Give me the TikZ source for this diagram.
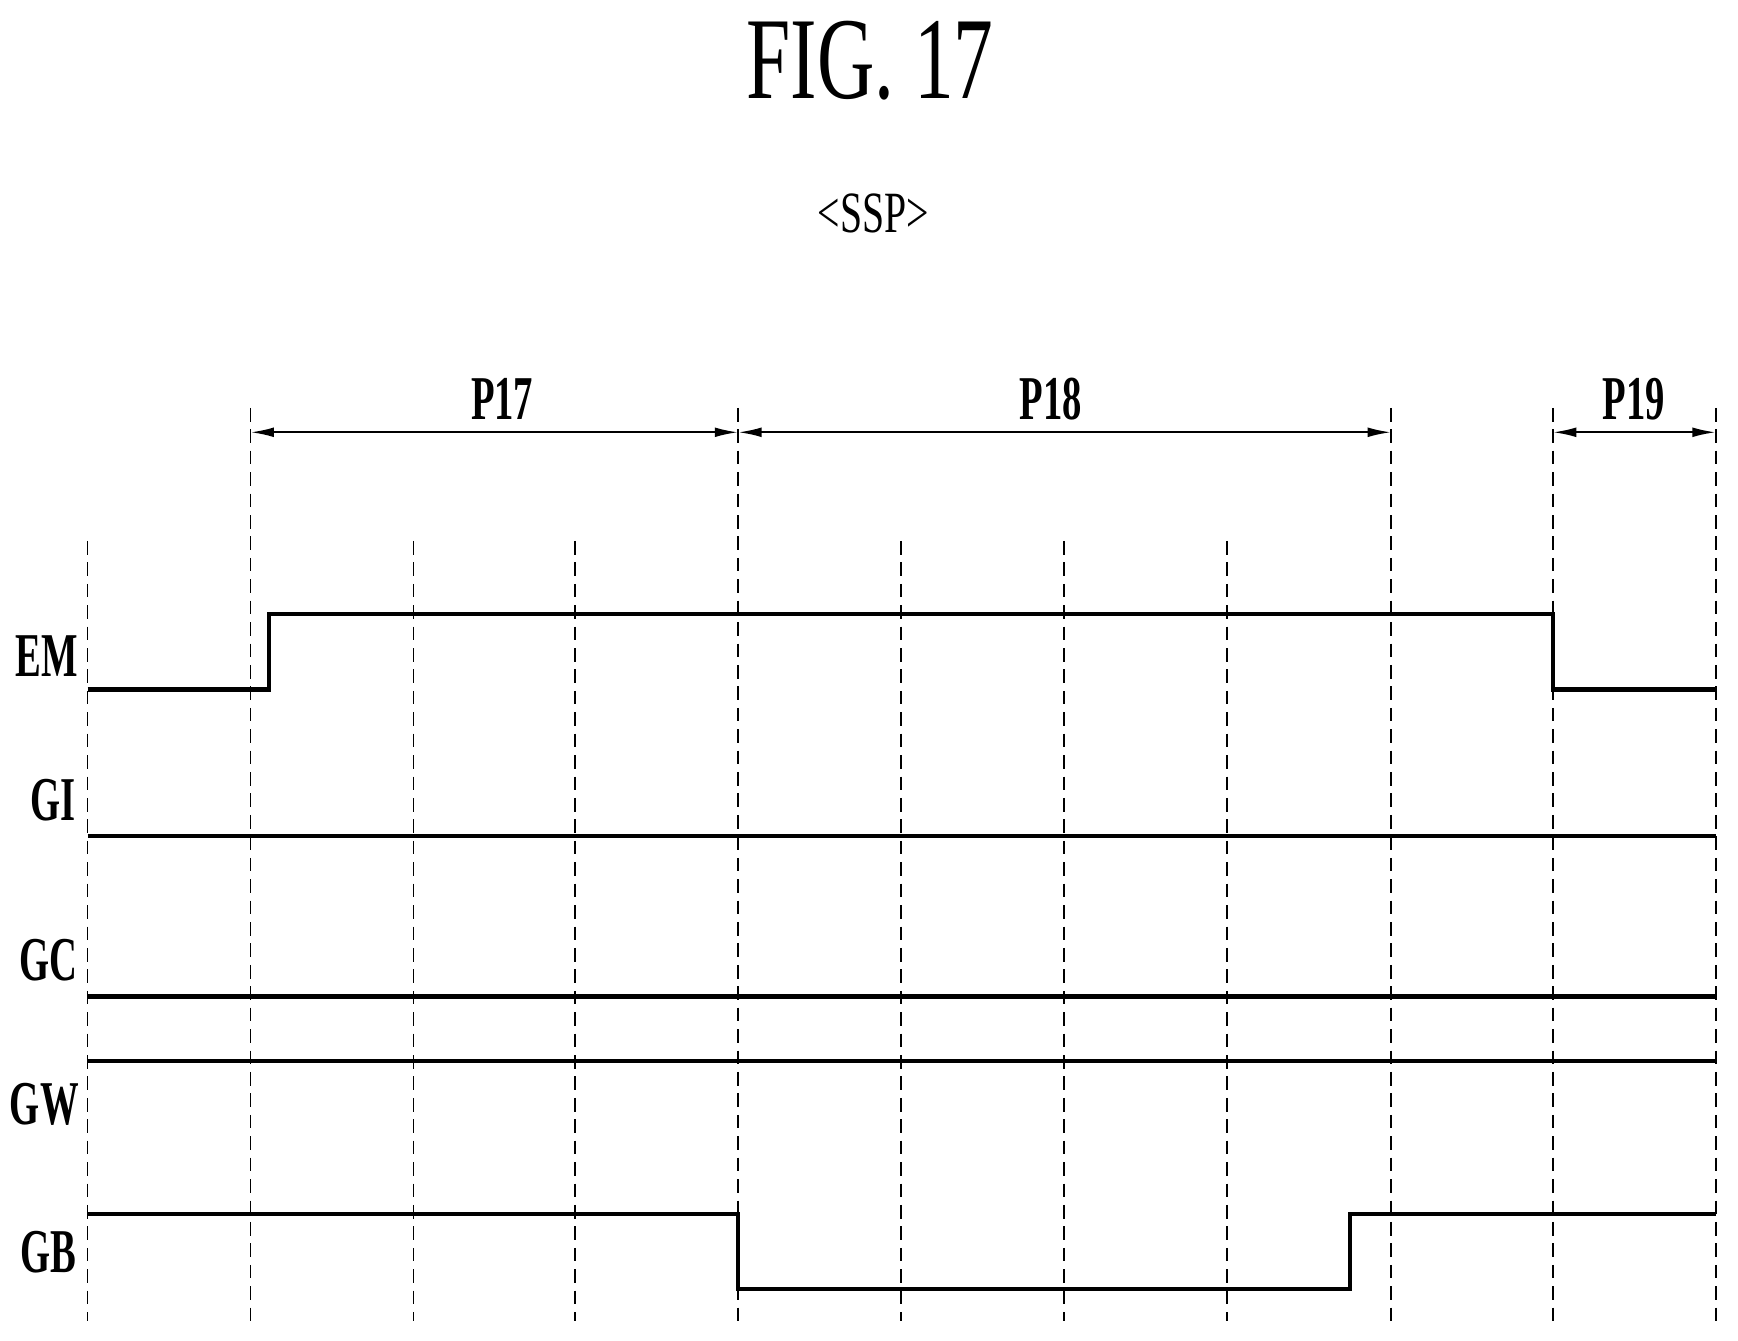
\documentclass[tikz,border=0pt]{standalone}
\usepackage{fontspec}
\setmainfont{Liberation Serif}
\usetikzlibrary{arrows.meta}
\begin{document}
\begin{tikzpicture}[x=0.02cm,y=-0.02cm,
  dsh/.style={dashed,dash pattern=on 7pt off 4pt,line width=0.8pt},
  sig/.style={line width=2.2pt},
  dim/.style={line width=1.1pt,{Latex[length=12pt,width=5pt]}-{Latex[length=12pt,width=5pt]}},
  nar/.style={inner sep=0pt}]
\useasboundingbox (0,0) rectangle (1568,1209);
\node[nar] (fig) at (785,55) {\scalebox{0.68}[1]{\fontsize{60}{60}\selectfont FIG. 17}};
\node[nar] (ssp) at (788,193) {\scalebox{0.68}[1]{\fontsize{30}{30}\selectfont <SSP>}};
\foreach \x in {226,666,1255,1401,1548} \draw[dsh] (\x,368) -- (\x,1192);
\foreach \x in {79,373,519,813,960,1107} \draw[dsh] (\x,488) -- (\x,1192);
\coordinate (a1) at (226,390); \coordinate (a2) at (666,390);
\coordinate (a3) at (1255,390); \coordinate (a4) at (1401,390); \coordinate (a5) at (1548,390);
\draw[dim] (a1) -- (a2); \draw[dim] (a2) -- (a3); \draw[dim] (a4) -- (a5);
\node[nar] (p17) at (453,360) {\scalebox{0.62}[1]{\bfseries\fontsize{32}{32}\selectfont P17}};
\node[nar] (p18) at (948,360) {\scalebox{0.62}[1]{\bfseries\fontsize{32}{32}\selectfont P18}};
\node[nar] (p19) at (1474,360) {\scalebox{0.62}[1]{\bfseries\fontsize{32}{32}\selectfont P19}};
\node[nar] (em) at (42,592) {\scalebox{0.62}[1]{\bfseries\fontsize{32}{32}\selectfont EM}};
\node[nar] (gi) at (48,722) {\scalebox{0.62}[1]{\bfseries\fontsize{32}{32}\selectfont GI}};
\node[nar] (gc) at (44,866) {\scalebox{0.62}[1]{\bfseries\fontsize{32}{32}\selectfont GC}};
\node[nar] (gw) at (40,996) {\scalebox{0.62}[1]{\bfseries\fontsize{32}{32}\selectfont GW}};
\node[nar] (gb) at (44,1130) {\scalebox{0.62}[1]{\bfseries\fontsize{32}{32}\selectfont GB}};
\draw[sig] (79,622) -- (243,622) -- (243,554) -- (1401,554) -- (1401,622) -- (1548,622);
\draw[sig] (79,754) -- (1548,754);
\draw[sig] (79,899) -- (1548,899);
\draw[sig] (79,957) -- (1548,957);
\draw[sig] (79,1095) -- (666,1095) -- (666,1163) -- (1218,1163) -- (1218,1095) -- (1548,1095);
\end{tikzpicture}
\end{document}
